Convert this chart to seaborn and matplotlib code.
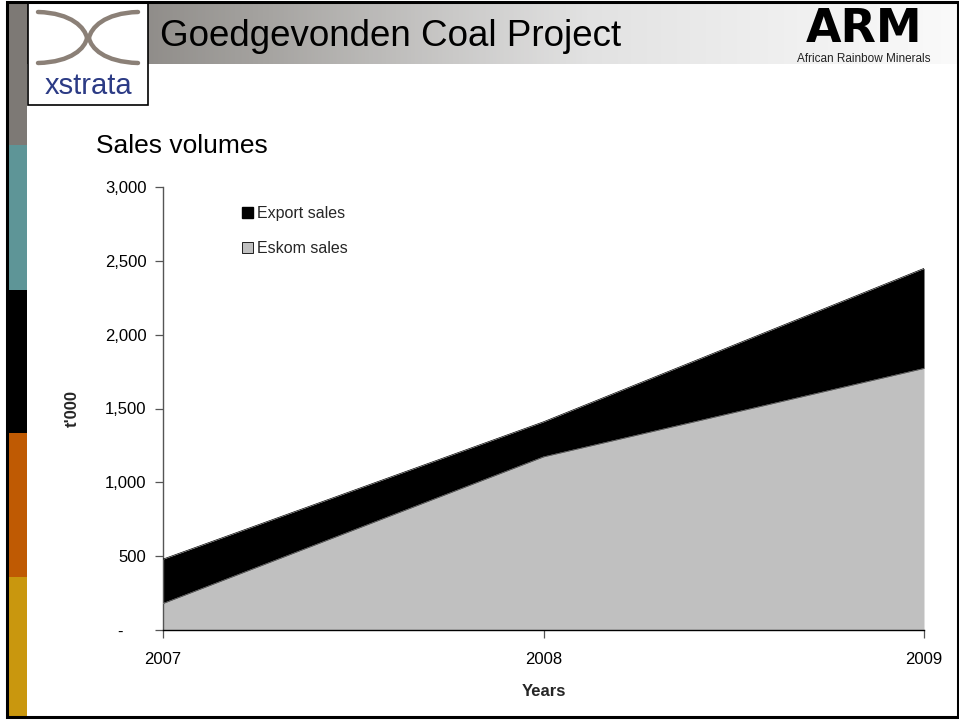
import numpy as np
import pandas as pd
import seaborn as sns
import matplotlib
matplotlib.use("Agg")
import matplotlib.pyplot as plt
from matplotlib.patches import Rectangle, PathPatch, Patch
from matplotlib.path import Path
from matplotlib.colors import LinearSegmentedColormap
from matplotlib.ticker import FixedLocator, FuncFormatter

# ---- data ----
years = [2007, 2008, 2009]
eskom_sales = [180, 1173, 1772]
export_sales = [300, 237, 677]
y_ticks = [0, 500, 1000, 1500, 2000, 2500, 3000]
series_names = ["Export sales", "Eskom sales"]

df = pd.DataFrame({"Year": years, "Eskom sales": eskom_sales, "Export sales": export_sales})
df["Total"] = df["Eskom sales"] + df["Export sales"]

sns.set_theme(style="white")
plt.rcParams["font.family"] = ["Liberation Sans", "DejaVu Sans"]

W, H = 959, 721
fig = plt.figure(figsize=(W / 100, H / 100), dpi=100)
fig.patch.set_facecolor("white")

# ---- slide decoration (pixel coordinates) ----
bg = fig.add_axes([0, 0, 1, 1])
bg.set_xlim(0, W)
bg.set_ylim(H, 0)
bg.axis("off")
bg.set_zorder(0)

# header gradient
grad = np.linspace(0, 1, 512) ** 0.8
cmap = LinearSegmentedColormap.from_list("hdr", ["#736f6b", "#a5a3a0", "#e2e2e2", "#fafafa"])
bg.imshow(grad[np.newaxis, :], cmap=cmap, aspect="auto", extent=(27, W, 64, 3), zorder=1)

# left colour bar
bar_cols = [("#7d7975", 3, 145), ("#5e9597", 145, 290), ("#000000", 290, 433),
            ("#bf5a03", 433, 577), ("#c9970e", 577, 716)]
for c, y0, y1 in bar_cols:
    bg.add_patch(Rectangle((8, y0), 19, y1 - y0, facecolor=c, edgecolor="none", zorder=2))

# slide frame
bg.add_patch(Rectangle((7, 2), W - 8, 715, facecolor="none", edgecolor="black", linewidth=2.2, zorder=5))

# xstrata logo box
bg.add_patch(Rectangle((28, 3), 120, 102, facecolor="white", edgecolor="black", linewidth=1.2, zorder=3))
xc = "#8b8077"
left = Path([(38, 12), (72, 13), (85, 28), (87, 38), (85, 48), (72, 62), (38, 63)],
            [Path.MOVETO, Path.CURVE4, Path.CURVE4, Path.CURVE4, Path.CURVE4, Path.CURVE4, Path.CURVE4])
right = Path([(138, 12), (104, 13), (91, 28), (89, 38), (91, 48), (104, 62), (138, 63)],
             [Path.MOVETO, Path.CURVE4, Path.CURVE4, Path.CURVE4, Path.CURVE4, Path.CURVE4, Path.CURVE4])
for p in (left, right):
    bg.add_patch(PathPatch(p, facecolor="none", edgecolor=xc, linewidth=3.2, capstyle="round", zorder=4))
bg.text(88, 86, "xstrata", color="#2c3b85", fontsize=21, ha="center", va="center", zorder=4)

# header title
bg.text(160, 37, "Goedgevonden Coal Project", fontsize=26.5, color="black", ha="left", va="center", zorder=4)

# ARM logo
bg.text(864, 42, "ARM", fontsize=33, fontweight="heavy", family=["DejaVu Sans"], color="black",
        ha="center", va="baseline", zorder=4)
bg.text(864, 59, "African Rainbow Minerals", fontsize=8.5, color="#222222", ha="center", va="center", zorder=4)

# subtitle
bg.text(96, 146, "Sales volumes", fontsize=19, color="black", ha="left", va="center", zorder=4)

# ---- chart ----
ax = fig.add_axes([163 / W, 1 - 630 / H, (924 - 163) / W, (630 - 187) / H])
ax.set_zorder(2)
ax.patch.set_alpha(0)

ax.fill_between(df["Year"], 0, df["Eskom sales"], color="#c0c0c0", linewidth=0, zorder=2)
ax.fill_between(df["Year"], df["Eskom sales"], df["Total"], color="black", linewidth=0, zorder=2)
sns.lineplot(data=df, x="Year", y="Total", ax=ax, color="black", linewidth=0.5, zorder=3)
sns.lineplot(data=df, x="Year", y="Eskom sales", ax=ax, color="#c0c0c0", linewidth=0.3, zorder=3)

ax.set_xlim(2007, 2009)
ax.set_ylim(0, 3000)
ax.xaxis.set_major_locator(FixedLocator(years))
ax.set_xticklabels([str(y) for y in years])
ax.yaxis.set_major_locator(FixedLocator(y_ticks))
ax.yaxis.set_major_formatter(FuncFormatter(lambda v, p: "-     " if v == 0 else f"{int(v):,}"))

for s in ["top", "right"]:
    ax.spines[s].set_visible(False)
ax.spines["left"].set_color("#555555")
ax.spines["left"].set_linewidth(1.0)
ax.spines["bottom"].set_color("black")
ax.spines["bottom"].set_linewidth(1.0)
ax.tick_params(axis="both", which="major", direction="out", length=6, width=0.9,
               colors="#555555", labelcolor="black", labelsize=12, left=True, bottom=True)
ax.tick_params(axis="y", pad=6)
ax.tick_params(axis="x", pad=10)

ax.set_xlabel("Years", fontsize=12, fontweight="bold", labelpad=12)
ax.set_ylabel("t'000", fontsize=12, fontweight="bold", labelpad=18)
ax.grid(False)

# legend
handles = [Patch(facecolor="black", edgecolor="black", label=series_names[0]),
           Patch(facecolor="#c0c0c0", edgecolor="black", linewidth=0.6, label=series_names[1])]
leg = ax.legend(handles=handles, loc="upper left", bbox_to_anchor=(0.085, 0.99), frameon=False,
                fontsize=11.5, handlelength=0.7, handleheight=0.7, handletextpad=0.25, labelspacing=1.25)

fig.savefig("out.png", dpi=100)
